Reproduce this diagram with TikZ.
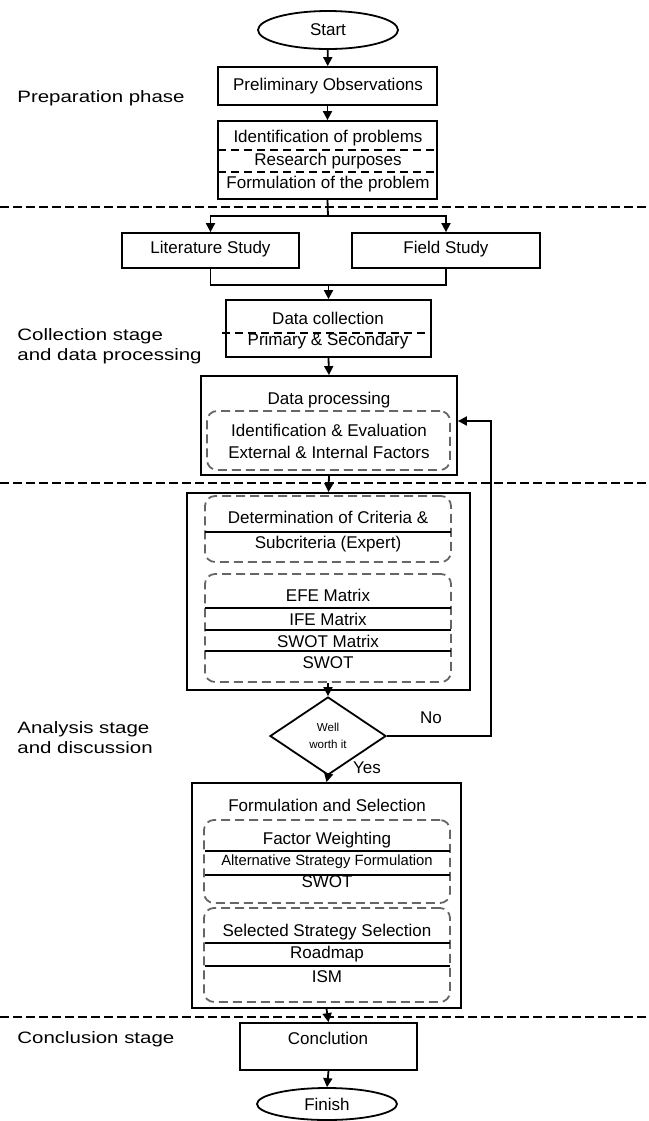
\documentclass[tikz,border=0pt]{standalone}
\usepackage{fontspec}
\setmainfont{Liberation Sans}
\usepackage{graphicx}
\usetikzlibrary{shapes.geometric,fit,arrows.meta}
\newcommand{\sx}[1]{\scalebox{1.24}[1]{#1}}
\begin{document}
\begin{tikzpicture}[x=0.5pt,y=-0.5pt,
  box/.style={draw, line width=0.9pt, inner sep=0pt, font=\fontsize{8.5}{10}\selectfont},
  ell/.style={draw, ellipse, line width=0.9pt, inner sep=0pt, font=\fontsize{8.5}{10}\selectfont},
  ibox/.style={draw=black!60, line width=0.9pt, dash pattern=on 4.5pt off 2.5pt, rounded corners=5pt, inner sep=0pt},
  txt/.style={font=\fontsize{8.5}{10}\selectfont, inner sep=0pt},
  stxt/.style={font=\fontsize{7.4}{9}\selectfont, inner sep=0pt},
  lab/.style={font=\fontsize{8.25}{10}\selectfont, anchor=west, inner sep=0pt, align=left},
  arr/.style={-{Triangle[length=4.5pt,width=4.5pt]}, line width=0.9pt},
  conn/.style={line width=0.9pt},
  sepline/.style={line width=0.75pt, dash pattern=on 4.5pt off 2pt},
  inline/.style={line width=0.7pt, dash pattern=on 4pt off 2.5pt},
  rowline/.style={line width=0.8pt}
]
\useasboundingbox (0,0) rectangle (649,1121);

% separators
\coordinate (s1a) at (0,207); \coordinate (s1b) at (649,207);
\coordinate (s2a) at (0,483); \coordinate (s2b) at (649,483);
\coordinate (s3a) at (0,1017); \coordinate (s3b) at (649,1017);
\draw[sepline] (s1a) -- (s1b);
\draw[sepline] (s2a) -- (s2b);
\draw[sepline] (s3a) -- (s3b);

% stage labels
\node[lab] (l1) at (17,98) {\sx{Preparation phase}};
\node[lab] (l2) at (17,346) {\sx{Collection stage}\\\sx{and data processing}};
\node[lab] (l3) at (17,738) {\sx{Analysis stage}\\\sx{and discussion}};
\node[lab] (l4) at (17,1039) {\sx{Conclusion stage}};

% start
\node[ell, minimum width=70pt, minimum height=19pt] (start) at (328,30) {Start};
\node[box, fit={(218,67)(437,105)}] (prelim) {};
\node[txt] (p1) at (328,86) {Preliminary Observations};
\node[box, fit={(218,121)(437,199)}] (ident) {};
\node[txt] (i1) at (328,138) {Identification of problems};
\node[txt] (i2) at (328,161) {Research purposes};
\node[txt] (i3) at (328,184) {Formulation of the problem};
\coordinate (id1a) at (218,150); \coordinate (id1b) at (437,150);
\coordinate (id2a) at (218,172); \coordinate (id2b) at (437,172);
\draw[inline] (id1a) -- (id1b);
\draw[inline] (id2a) -- (id2b);

\draw[arr] (start) -- (prelim);
\draw[arr] (prelim) -- (ident);

% literature / field
\node[box, fit={(122,233)(299,268)}] (lit) {};
\node[txt] (lt) at (210.5,249) {Literature Study};
\node[box, fit={(352,233)(540,268)}] (field) {};
\node[txt] (ft) at (446,249) {Field Study};
\coordinate (split) at (328,216);
\draw[conn] (ident.south) -- (split);
\draw[arr] (split) -| (lit.north);
\draw[arr] (split) -| (field.north);

% data collection
\node[box, fit={(226,300)(431,357)}] (dc) {};
\node[txt] (dc1) at (328,318) {Data collection};
\node[txt] (dc2) at (328,341) {Primary \& Secondary};
\coordinate (dca) at (222,333); \coordinate (dcb) at (431,333);
\draw[inline] (dca) -- (dcb);
\coordinate (join) at (328.5,285);
\draw[conn] (lit.south) |- (join);
\draw[conn] (field.south) |- (join);
\draw[arr] (join) -- (dc.north);

% data processing
\node[box, fit={(201,376)(457,475)}] (dp) {};
\node[txt] (dp1) at (329,400) {Data processing};
\node[ibox, fit={(207,411)(450,470)}] (ib0) {};
\node[txt] (dp2) at (329,430) {Identification \& Evaluation};
\node[txt] (dp3) at (329,452) {External \& Internal Factors};
\draw[arr] (dc.south) -- (dp.north);

% analysis
\node[box, fit={(187,493)(470,690)}] (an) {};
\node[ibox, fit={(205,496)(451,562)}] (ib1) {};
\node[txt] (a1) at (328,517) {Determination of Criteria \&};
\node[txt] (a2) at (328,544) {Subcriteria (Expert)};
\coordinate (r1a) at (205,532); \coordinate (r1b) at (451,532);
\draw[rowline] (r1a) -- (r1b);
\node[ibox, fit={(205,574)(451,682)}] (ib2) {};
\node[txt] (a3) at (328,595) {EFE Matrix};
\node[txt] (a4) at (328,619) {IFE Matrix};
\node[txt] (a5) at (328,641) {SWOT Matrix};
\node[txt] (a6) at (328,663) {SWOT};
\coordinate (r2a) at (205,608); \coordinate (r2b) at (451,608);
\coordinate (r3a) at (205,630); \coordinate (r3b) at (451,630);
\coordinate (r4a) at (205,651); \coordinate (r4b) at (451,651);
\draw[rowline] (r2a) -- (r2b);
\draw[rowline] (r3a) -- (r3b);
\draw[rowline] (r4a) -- (r4b);
\draw[arr] (dp.south) -- (an.north);

% decision
\node[draw, diamond, line width=0.9pt, minimum width=58pt, minimum height=39pt, inner sep=0pt,
      align=center, font=\fontsize{5.8}{8.5}\selectfont] (dia) at (328,736) {Well\\worth it};
\draw[arr] (ib2.south) -- (dia.north);
\coordinate (fbc) at (491,421);
\draw[arr] (dia.east) -| (fbc) -- (fbc -| dp.east);
\node[txt] (no) at (431,718) {No};
\node[txt] (yes) at (367,768) {Yes};

% formulation and selection
\node[box, fit={(192,783)(461,1008)}] (fs) {};
\node[txt] (f0) at (327,805) {Formulation and Selection};
\node[ibox, fit={(204,820)(450,903)}] (ib3) {};
\node[txt] (f1) at (327,840) {Factor Weighting};
\node[stxt] (f2) at (327,862) {Alternative Strategy Formulation};
\node[txt] (f3) at (327,882) {SWOT};
\coordinate (r5a) at (205,851); \coordinate (r5b) at (450,851);
\coordinate (r6a) at (205,875); \coordinate (r6b) at (450,875);
\draw[rowline] (r5a) -- (r5b);
\draw[rowline] (r6a) -- (r6b);
\node[ibox, fit={(204,908)(450,1002)}] (ib4) {};
\node[txt] (f4) at (327,932) {Selected Strategy Selection};
\node[txt] (f5) at (327,954) {Roadmap};
\node[txt] (f6) at (327,977) {ISM};
\coordinate (r7a) at (205,943); \coordinate (r7b) at (450,943);
\coordinate (r8a) at (205,966); \coordinate (r8b) at (450,966);
\draw[rowline] (r7a) -- (r7b);
\draw[rowline] (r8a) -- (r8b);
\draw[arr] (dia.south) -- (fs.north);

% conclusion
\node[box, fit={(240,1023)(417,1070)}] (con) {};
\node[txt] (c1) at (328,1038) {Conclution};
\draw[arr] (fs.south) -- (con.north);
\node[ell, minimum width=70pt, minimum height=16pt] (fin) at (327,1104) {Finish};
\draw[arr] (con.south) -- (fin.north);
\end{tikzpicture}
\end{document}
